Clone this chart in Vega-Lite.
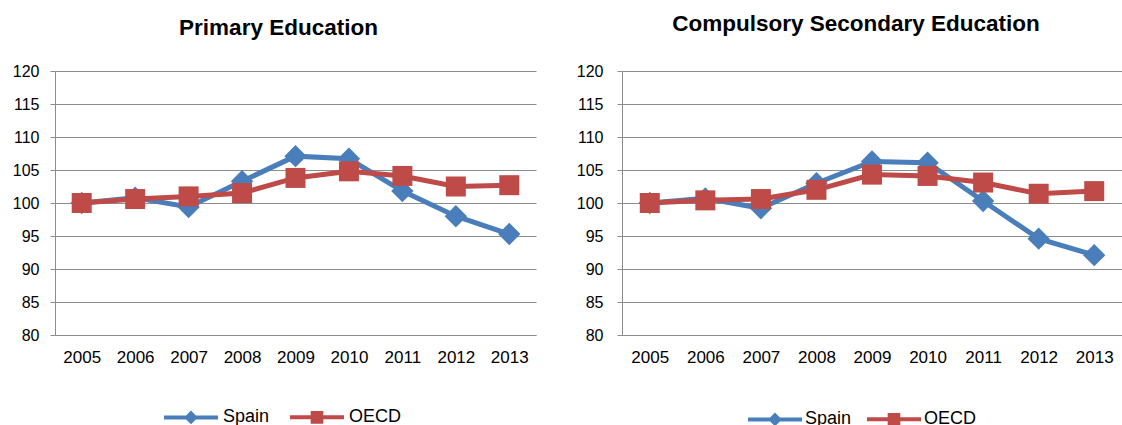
{
  "$schema": "https://vega.github.io/schema/vega-lite/v6.json",
  "padding": {"left": 0, "top": 12, "right": 0, "bottom": 0},
  "background": "white",
  "config": {
    "font": "Liberation Sans",
    "view": {"stroke": null},
    "axis": {"labelFont": "Liberation Sans", "labelColor": "#000000", "domainColor": "#8c8c8c", "tickColor": "#8c8c8c", "gridColor": "#8c8c8c", "gridOpacity": 1, "domainWidth": 1, "tickWidth": 1, "gridWidth": 1}
  },
  "data": {
    "values": [
      {"panel": "Primary", "year": "2005", "series": "Spain", "value": 100},
      {"panel": "Primary", "year": "2006", "series": "Spain", "value": 100.8},
      {"panel": "Primary", "year": "2007", "series": "Spain", "value": 99.4},
      {"panel": "Primary", "year": "2008", "series": "Spain", "value": 103.3},
      {"panel": "Primary", "year": "2009", "series": "Spain", "value": 107.1},
      {"panel": "Primary", "year": "2010", "series": "Spain", "value": 106.7},
      {"panel": "Primary", "year": "2011", "series": "Spain", "value": 101.8},
      {"panel": "Primary", "year": "2012", "series": "Spain", "value": 98},
      {"panel": "Primary", "year": "2013", "series": "Spain", "value": 95.3},
      {"panel": "Primary", "year": "2005", "series": "OECD", "value": 100},
      {"panel": "Primary", "year": "2006", "series": "OECD", "value": 100.6},
      {"panel": "Primary", "year": "2007", "series": "OECD", "value": 101},
      {"panel": "Primary", "year": "2008", "series": "OECD", "value": 101.5},
      {"panel": "Primary", "year": "2009", "series": "OECD", "value": 103.8},
      {"panel": "Primary", "year": "2010", "series": "OECD", "value": 104.8},
      {"panel": "Primary", "year": "2011", "series": "OECD", "value": 104.1},
      {"panel": "Primary", "year": "2012", "series": "OECD", "value": 102.5},
      {"panel": "Primary", "year": "2013", "series": "OECD", "value": 102.7},
      {"panel": "Secondary", "year": "2005", "series": "Spain", "value": 100},
      {"panel": "Secondary", "year": "2006", "series": "Spain", "value": 100.7},
      {"panel": "Secondary", "year": "2007", "series": "Spain", "value": 99.2},
      {"panel": "Secondary", "year": "2008", "series": "Spain", "value": 103},
      {"panel": "Secondary", "year": "2009", "series": "Spain", "value": 106.3},
      {"panel": "Secondary", "year": "2010", "series": "Spain", "value": 106.1},
      {"panel": "Secondary", "year": "2011", "series": "Spain", "value": 100.3},
      {"panel": "Secondary", "year": "2012", "series": "Spain", "value": 94.6},
      {"panel": "Secondary", "year": "2013", "series": "Spain", "value": 92.1},
      {"panel": "Secondary", "year": "2005", "series": "OECD", "value": 100},
      {"panel": "Secondary", "year": "2006", "series": "OECD", "value": 100.4},
      {"panel": "Secondary", "year": "2007", "series": "OECD", "value": 100.6},
      {"panel": "Secondary", "year": "2008", "series": "OECD", "value": 102},
      {"panel": "Secondary", "year": "2009", "series": "OECD", "value": 104.3},
      {"panel": "Secondary", "year": "2010", "series": "OECD", "value": 104.1},
      {"panel": "Secondary", "year": "2011", "series": "OECD", "value": 103.1},
      {"panel": "Secondary", "year": "2012", "series": "OECD", "value": 101.4},
      {"panel": "Secondary", "year": "2013", "series": "OECD", "value": 101.8}
    ]
  },
  "spacing": 31,
  "resolve": {"legend": {"color": "independent"}, "scale": {"x": "independent", "y": "independent"}},
  "hconcat": [
    {
      "title": {"text": "Primary Education", "fontSize": 22.5, "fontWeight": "bold", "font": "Liberation Sans", "color": "#000000", "offset": 24, "dx": -17, "anchor": "middle"},
      "width": 481,
      "height": 264,
      "transform": [{"filter": "datum.panel == 'Primary'"}],
      "encoding": {
        "x": {"field": "year", "type": "ordinal", "scale": {"type": "point", "padding": 0.5}, "axis": {"title": null, "labelAngle": 0, "ticks": false, "grid": false, "labelPadding": 14, "labelFontSize": 17, "domain": true}},
        "y": {"field": "value", "type": "quantitative", "scale": {"domain": [80, 120], "nice": false, "zero": false}, "axis": {"title": null, "values": [80, 85, 90, 95, 100, 105, 110, 115, 120], "tickSize": 5, "labelPadding": 11, "minExtent": 55, "maxExtent": 55, "labelFontSize": 16, "grid": true}},
        "color": {"field": "series", "type": "nominal", "scale": {"domain": ["Spain", "OECD"], "range": ["#4a7ebb", "#be4b48"]},
          "legend": {"title": null, "orient": "none", "legendX": 107, "legendY": 317, "direction": "horizontal", "symbolSize": 2916, "labelFontSize": 18, "labelColor": "#000000", "labelOffset": 3, "columnPadding": 12, "padding": 0,
            "encode": {"symbols": {"update": {
              "shape": {"signal": "datum.value === 'Spain' ? 'M-1,0H1M0,-0.15L0.15,0L0,0.15L-0.15,0Z' : 'M-1,0H1M-0.16,-0.16H0.16V0.16H-0.16Z'"},
              "fill": {"signal": "datum.value === 'Spain' ? '#4a7ebb' : '#be4b48'"},
              "stroke": {"signal": "datum.value === 'Spain' ? '#4a7ebb' : '#be4b48'"},
              "strokeWidth": {"value": 4}, "opacity": {"value": 1}, "fillOpacity": {"value": 1}, "strokeOpacity": {"value": 1}}}}}}
      },
      "layer": [
        {"transform": [{"filter": "datum.series == 'Spain'"}], "mark": {"type": "line", "strokeWidth": 5}},
        {"transform": [{"filter": "datum.series == 'Spain'"}], "mark": {"type": "point", "shape": "diamond", "filled": true, "opacity": 1, "size": 500}},
        {"transform": [{"filter": "datum.series == 'OECD'"}], "mark": {"type": "line", "strokeWidth": 5}},
        {"transform": [{"filter": "datum.series == 'OECD'"}], "mark": {"type": "point", "shape": "square", "filled": true, "opacity": 1, "size": 400}}
      ]
    },
    {
      "title": {"text": "Compulsory Secondary Education", "fontSize": 22.5, "fontWeight": "bold", "font": "Liberation Sans", "color": "#000000", "offset": 28, "dx": -16, "anchor": "middle"},
      "width": 500,
      "height": 264,
      "transform": [{"filter": "datum.panel == 'Secondary'"}],
      "encoding": {
        "x": {"field": "year", "type": "ordinal", "scale": {"type": "point", "padding": 0.5}, "axis": {"title": null, "labelAngle": 0, "ticks": false, "grid": false, "labelPadding": 14, "labelFontSize": 17, "domain": true}},
        "y": {"field": "value", "type": "quantitative", "scale": {"domain": [80, 120], "nice": false, "zero": false}, "axis": {"title": null, "values": [80, 85, 90, 95, 100, 105, 110, 115, 120], "tickSize": 5, "labelPadding": 14, "minExtent": 55, "maxExtent": 55, "labelFontSize": 16, "grid": true}},
        "color": {"field": "series", "type": "nominal", "scale": {"domain": ["Spain", "OECD"], "range": ["#4a7ebb", "#be4b48"]},
          "legend": {"title": null, "orient": "none", "legendX": 124, "legendY": 319, "direction": "horizontal", "symbolSize": 2916, "labelFontSize": 18, "labelColor": "#000000", "labelOffset": 1, "columnPadding": 7, "padding": 0,
            "encode": {"symbols": {"update": {
              "shape": {"signal": "datum.value === 'Spain' ? 'M-1,0H1M0,-0.15L0.15,0L0,0.15L-0.15,0Z' : 'M-1,0H1M-0.16,-0.16H0.16V0.16H-0.16Z'"},
              "fill": {"signal": "datum.value === 'Spain' ? '#4a7ebb' : '#be4b48'"},
              "stroke": {"signal": "datum.value === 'Spain' ? '#4a7ebb' : '#be4b48'"},
              "strokeWidth": {"value": 4}, "opacity": {"value": 1}, "fillOpacity": {"value": 1}, "strokeOpacity": {"value": 1}}}}}}
      },
      "layer": [
        {"transform": [{"filter": "datum.series == 'Spain'"}], "mark": {"type": "line", "strokeWidth": 5}},
        {"transform": [{"filter": "datum.series == 'Spain'"}], "mark": {"type": "point", "shape": "diamond", "filled": true, "opacity": 1, "size": 500}},
        {"transform": [{"filter": "datum.series == 'OECD'"}], "mark": {"type": "line", "strokeWidth": 5}},
        {"transform": [{"filter": "datum.series == 'OECD'"}], "mark": {"type": "point", "shape": "square", "filled": true, "opacity": 1, "size": 400}}
      ]
    }
  ]
}
